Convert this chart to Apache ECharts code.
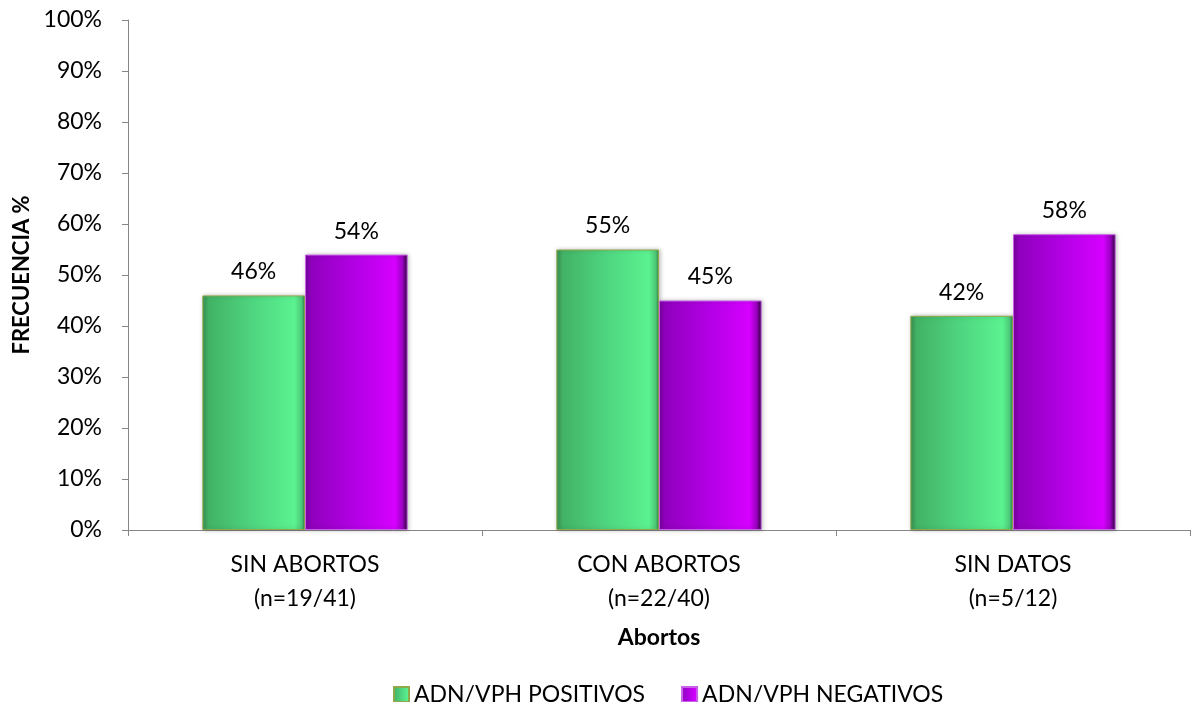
<!DOCTYPE html>
<html>
<head>
<meta charset="utf-8">
<script src="https://cdn.jsdelivr.net/npm/echarts@6/dist/echarts.min.js"></script>
<style>
  html, body { margin: 0; padding: 0; background: #ffffff; }
  #chart { width: 1193px; height: 702px; }
</style>
</head>
<body>
<div id="chart"></div>
<script>
// Categories (two-line labels) and percentages per HPV result
const categories = ['SIN ABORTOS\n(n=19/41)', 'CON ABORTOS\n(n=22/40)', 'SIN DATOS\n(n=5/12)'];
const positivos = [46, 55, 42];
const negativos = [54, 45, 58];
const seriesNames = ['ADN/VPH POSITIVOS', 'ADN/VPH NEGATIVOS'];
const yTicks = { min: 0, max: 100, interval: 10 };

const FONT = 'Lato, "Liberation Sans", sans-serif';

function hGrad(stops) {
  return new echarts.graphic.LinearGradient(0, 0, 1, 0,
    stops.map(([o, c]) => ({ offset: o, color: c })));
}

const greenFill = hGrad([
  [0, '#3a9354'], [0.06, '#42b265'], [0.5, '#4fd680'], [0.9, '#5bf290'], [0.97, '#4cc877'], [1, '#37844c']
]);
const purpleFill = hGrad([
  [0, '#7a00a0'], [0.06, '#9000bd'], [0.5, '#b400e6'], [0.88, '#d600ff'], [0.95, '#9a00c0'], [1, '#2a0035']
]);

const chart = echarts.init(document.getElementById('chart'));
chart.setOption({
  animation: false,
  backgroundColor: '#ffffff',
  textStyle: { fontFamily: FONT },
  grid: { left: 128, right: 3, top: 20, bottom: 172, containLabel: false },
  legend: {
    top: 678,
    left: 388,
    itemWidth: 15,
    itemHeight: 15,
    itemGap: 36,
    icon: 'rect',
    textStyle: { fontFamily: FONT, fontSize: 23, color: '#000000' },
    data: seriesNames
  },
  xAxis: {
    type: 'category',
    data: categories,
    name: 'Abortos',
    nameLocation: 'middle',
    nameGap: 96,
    nameTextStyle: { fontFamily: FONT, fontSize: 23, fontWeight: 'bold', color: '#000000' },
    axisLine: { lineStyle: { color: '#868686', width: 1 } },
    axisTick: { show: true, length: 6, lineStyle: { color: '#868686' } },
    axisLabel: { fontFamily: FONT, fontSize: 23, color: '#000000', margin: 18, lineHeight: 34 }
  },
  yAxis: {
    type: 'value',
    min: yTicks.min,
    max: yTicks.max,
    interval: yTicks.interval,
    name: 'FRECUENCIA %',
    nameLocation: 'middle',
    nameGap: 87,
    nameRotate: 90,
    nameTextStyle: { fontFamily: FONT, fontSize: 22, fontWeight: 'bold', color: '#000000' },
    axisLine: { show: true, lineStyle: { color: '#868686', width: 1 } },
    axisTick: { show: true, length: 6, lineStyle: { color: '#868686' } },
    axisLabel: { fontFamily: FONT, fontSize: 23, color: '#000000', margin: 26, formatter: '{value}%' },
    splitLine: { show: false }
  },
  series: [
    {
      name: seriesNames[0],
      type: 'bar',
      data: positivos,
      barGap: '0%',
      barCategoryGap: '42%',
      itemStyle: {
        color: greenFill,
        borderColor: '#8fa84a',
        borderWidth: 1,
        shadowColor: 'rgba(0,0,0,0.25)',
        shadowBlur: 4,
        shadowOffsetX: 1
      },
      label: {
        show: true, position: 'top', distance: 12,
        fontFamily: FONT, fontSize: 23, color: '#000000',
        formatter: p => p.value + '%'
      }
    },
    {
      name: seriesNames[1],
      type: 'bar',
      data: negativos,
      itemStyle: {
        color: purpleFill,
        borderColor: '#c860e8',
        borderWidth: 1,
        shadowColor: 'rgba(0,0,0,0.25)',
        shadowBlur: 4,
        shadowOffsetX: 1
      },
      label: {
        show: true, position: 'top', distance: 12,
        fontFamily: FONT, fontSize: 23, color: '#000000',
        formatter: p => p.value + '%'
      }
    }
  ]
});
</script>
</body>
</html>
